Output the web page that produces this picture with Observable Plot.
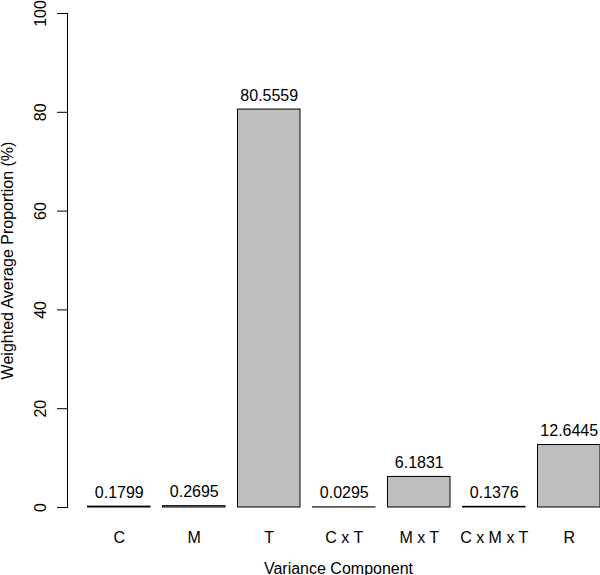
<!DOCTYPE html>
<html><head><meta charset="utf-8">
<script src="https://cdn.jsdelivr.net/npm/d3@7"></script>
<script src="https://cdn.jsdelivr.net/npm/@observablehq/plot@0.6"></script>
<style>html,body{margin:0;padding:0;background:#fff}</style>
</head><body><div id="chart"></div>
<script>
const categories = ["C", "M", "T", "C x T", "M x T", "C x M x T", "R"];
const proportions = [0.1799, 0.2695, 80.5559, 0.0295, 6.1831, 0.1376, 12.6445];
const valueLabels = ["0.1799", "0.2695", "80.5559", "0.0295", "6.1831", "0.1376", "12.6445"];
const yTicks = [0, 20, 40, 60, 80, 100];
const xTitle = "Variance Component";
const yTitle = "Weighted Average Proportion (%)";

const data = categories.map((c, i) => ({category: c, value: proportions[i], label: valueLabels[i]}));

const chart = Plot.plot({
  width: 600,
  height: 575,
  marginLeft: 67,
  marginRight: 0,
  marginTop: 13,
  marginBottom: 68,
  style: {fontFamily: "'Liberation Sans', Arial, sans-serif", fontSize: "16px", background: "white", color: "black", overflow: "visible"},
  x: {domain: categories, range: [81.25, 606.25], paddingInner: 1/6, paddingOuter: 1/12, round: false},
  y: {domain: [0, 100]},
  marks: [
    Plot.barY(data, {x: "category", y: "value", fill: "#bebebe", stroke: "black", strokeWidth: 1}),
    Plot.text(data, {x: "category", y: "value", text: "label", dy: -9, lineAnchor: "bottom", fontSize: 16, fill: "black"}),
    Plot.frame({anchor: "left", stroke: "black"}),
    Plot.axisY({ticks: yTicks, tickSize: 10, tickFormat: () => "", label: null, stroke: "black"}),
    Plot.text(yTicks, {y: d => d, text: d => String(d), frameAnchor: "left", dx: -22, rotate: -90, lineAnchor: "bottom", textAnchor: "middle", fontSize: 16, fill: "black"}),
    Plot.axisX({tickSize: 0, tickPadding: 24.6, fontSize: 16, label: null, fill: "black"}),
    Plot.text([xTitle], {frameAnchor: "bottom", dx: 4.5, dy: 66, lineAnchor: "bottom", textAnchor: "middle", fontSize: 16, fill: "black"}),
    Plot.text([yTitle], {frameAnchor: "left", dx: -55, rotate: -90, lineAnchor: "bottom", textAnchor: "middle", fontSize: 16, fill: "black"})
  ]
});
document.getElementById("chart").appendChild(chart);
</script>
</body></html>
